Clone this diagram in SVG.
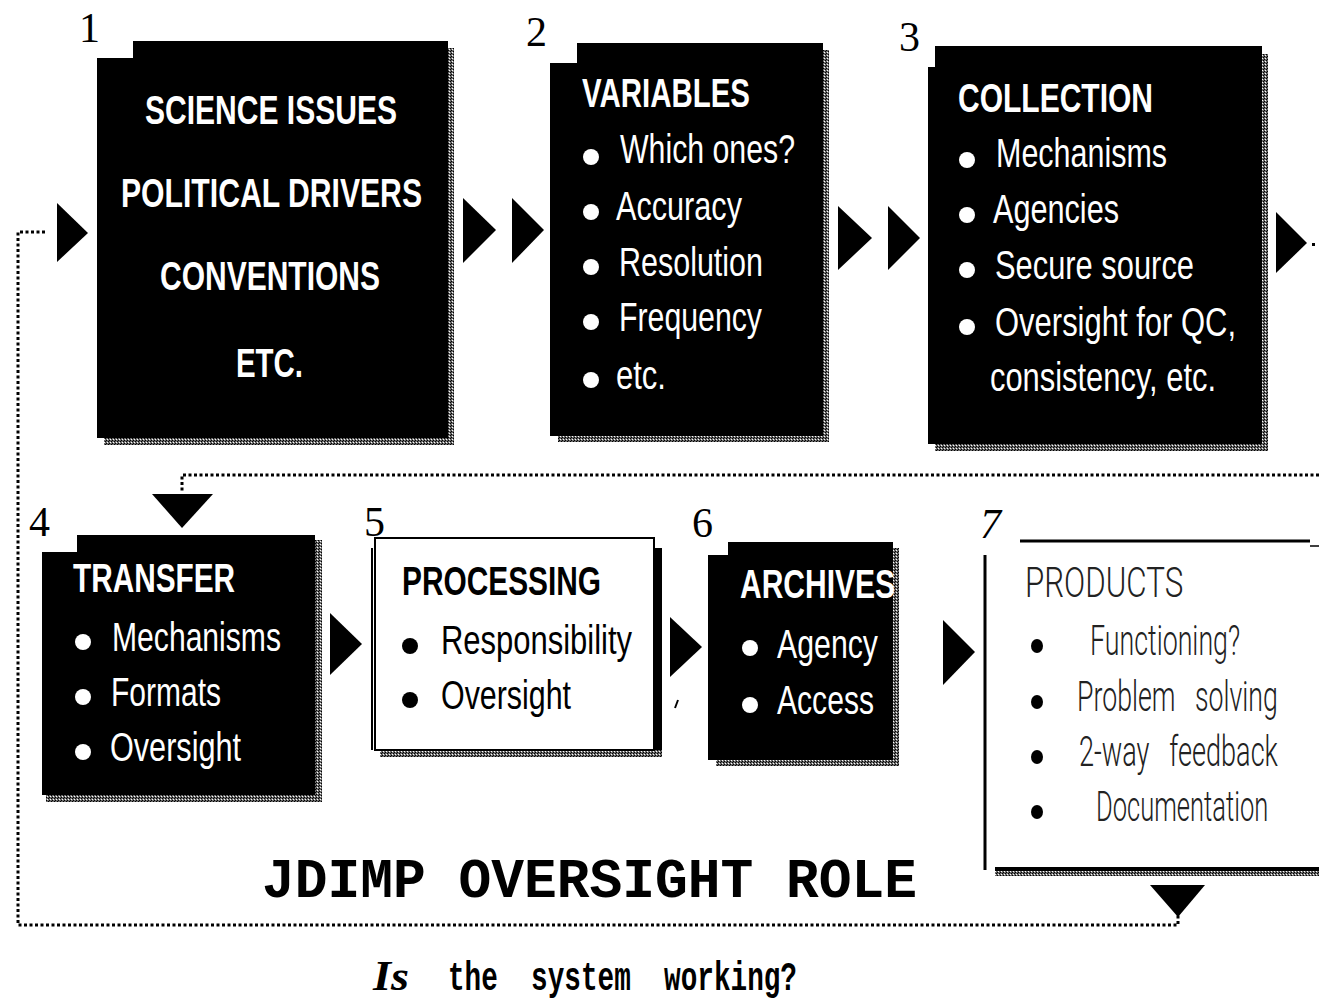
<svg xmlns="http://www.w3.org/2000/svg" width="1319" height="1000" viewBox="0 0 1319 1000">
<style>
.blk{fill:#000}
.stip{fill:url(#stip)}
.num{font-family:"Liberation Serif",serif;font-size:42px;fill:#000}
.hd{font-family:"Liberation Sans",Arial,sans-serif;font-weight:bold;font-size:40px;fill:#fff}
.it{font-family:"Liberation Sans",Arial,sans-serif;font-size:40px;fill:#fff}
.hdk{font-family:"Liberation Sans",Arial,sans-serif;font-weight:bold;font-size:40px;fill:#000}
.itk{font-family:"Liberation Sans",Arial,sans-serif;font-size:40px;fill:#000}
.lt{font-family:Roboto,"Liberation Sans",sans-serif;font-weight:300;font-size:42px;fill:#222}
.bw{fill:#fff}
.bk{fill:#000}
.dot{fill:none;stroke:#000;stroke-width:3;stroke-dasharray:3 2.5}
.tri{fill:#000}
</style>
<defs>
<pattern id="stip" width="3" height="3" patternUnits="userSpaceOnUse">
<rect width="3" height="3" fill="#6a6a6a"/>
<rect width="1" height="1" fill="#000"/>
<rect x="2" y="1" width="1" height="1" fill="#fff"/>
<rect x="1" y="2" width="1" height="1" fill="#000"/>
</pattern>
</defs>
<rect width="1319" height="1000" fill="#fff"/>

<g id="connectors">
<path class="dot" d="M45,232 H18 V925 H1178 V915"/>
<path class="dot" d="M1319,475 H182 V492"/>
<polygon class="tri" points="57,203 88,233 57,262"/>
<polygon class="tri" points="463,198 496,230 463,263"/>
<polygon class="tri" points="512,198 544,230 512,263"/>
<polygon class="tri" points="838,206 872,238 838,270"/>
<polygon class="tri" points="888,206 920,238 888,270"/>
<polygon class="tri" points="1276,212 1307,243 1276,273"/>
<rect x="1312" y="243" width="3" height="3" fill="#000"/>
<polygon class="tri" points="152,494 213,494 182,528"/>
<polygon class="tri" points="330,613 362,644 330,675"/>
<polygon class="tri" points="670,617 702,647 670,677"/>
<path d="M678,700 L675,708" stroke="#000" stroke-width="2"/>
<polygon class="tri" points="943,620 975,652 943,685"/>
<polygon class="tri" points="1150,885 1205,885 1178,917"/>
</g>

<g id="node1">
<text class="num" x="79" y="42">1</text>
<rect class="stip" x="447" y="48" width="7" height="397"/>
<rect class="stip" x="104" y="437" width="350" height="8"/>
<path class="blk" d="M97,58 H133 V41 H448 V438 H97 Z"/>
<text class="hd" x="145" y="124" textLength="252" lengthAdjust="spacingAndGlyphs">SCIENCE ISSUES</text>
<text class="hd" x="121" y="207" textLength="301" lengthAdjust="spacingAndGlyphs">POLITICAL DRIVERS</text>
<text class="hd" x="160" y="290" textLength="220" lengthAdjust="spacingAndGlyphs">CONVENTIONS</text>
<text class="hd" x="236" y="377" textLength="67" lengthAdjust="spacingAndGlyphs">ETC.</text>
</g>

<g id="node2">
<text class="num" x="526" y="46">2</text>
<rect class="stip" x="822" y="50" width="7" height="392"/>
<rect class="stip" x="558" y="435" width="271" height="7"/>
<path class="blk" d="M550,63 H577 V43 H823 V436 H550 Z"/>
<text class="hd" x="582" y="107" textLength="168" lengthAdjust="spacingAndGlyphs">VARIABLES</text>
<circle class="bw" cx="591" cy="157" r="8"/>
<circle class="bw" cx="591" cy="212" r="8"/>
<circle class="bw" cx="591" cy="267" r="8"/>
<circle class="bw" cx="591" cy="322" r="8"/>
<circle class="bw" cx="591" cy="380" r="8"/>
<text class="it" x="620" y="163" textLength="175" lengthAdjust="spacingAndGlyphs">Which ones?</text>
<text class="it" x="616" y="220" textLength="126" lengthAdjust="spacingAndGlyphs">Accuracy</text>
<text class="it" x="619" y="276" textLength="144" lengthAdjust="spacingAndGlyphs">Resolution</text>
<text class="it" x="619" y="331" textLength="143" lengthAdjust="spacingAndGlyphs">Frequency</text>
<text class="it" x="616" y="389" textLength="50" lengthAdjust="spacingAndGlyphs">etc.</text>
</g>

<g id="node3">
<text class="num" x="899" y="51">3</text>
<rect class="stip" x="1261" y="54" width="7" height="397"/>
<rect class="stip" x="935" y="443" width="333" height="8"/>
<path class="blk" d="M928,67 H935 V46 H1262 V444 H928 Z"/>
<text class="hd" x="958" y="112" textLength="195" lengthAdjust="spacingAndGlyphs">COLLECTION</text>
<circle class="bw" cx="967" cy="160" r="8"/>
<circle class="bw" cx="967" cy="215" r="8"/>
<circle class="bw" cx="967" cy="270" r="8"/>
<circle class="bw" cx="967" cy="327" r="8"/>
<text class="it" x="996" y="167" textLength="171" lengthAdjust="spacingAndGlyphs">Mechanisms</text>
<text class="it" x="993" y="223" textLength="126" lengthAdjust="spacingAndGlyphs">Agencies</text>
<text class="it" x="995" y="279" textLength="199" lengthAdjust="spacingAndGlyphs">Secure source</text>
<text class="it" x="995" y="336" textLength="241" lengthAdjust="spacingAndGlyphs">Oversight for QC,</text>
<text class="it" x="990" y="391" textLength="226" lengthAdjust="spacingAndGlyphs">consistency, etc.</text>
</g>

<g id="node4">
<text class="num" x="29" y="536">4</text>
<rect class="stip" x="314" y="540" width="8" height="262"/>
<rect class="stip" x="46" y="794" width="276" height="8"/>
<path class="blk" d="M42,552 H77 V535 H315 V795 H42 Z"/>
<text class="hd" x="73" y="592" textLength="162" lengthAdjust="spacingAndGlyphs">TRANSFER</text>
<circle class="bw" cx="83" cy="642" r="8"/>
<circle class="bw" cx="83" cy="697" r="8"/>
<circle class="bw" cx="83" cy="752" r="8"/>
<text class="it" x="112" y="651" textLength="169" lengthAdjust="spacingAndGlyphs">Mechanisms</text>
<text class="it" x="111" y="706" textLength="110" lengthAdjust="spacingAndGlyphs">Formats</text>
<text class="it" x="110" y="761" textLength="131" lengthAdjust="spacingAndGlyphs">Oversight</text>
</g>

<g id="node5">
<text class="num" x="364" y="536">5</text>
<rect x="654" y="548" width="8" height="209" fill="#000"/>
<rect class="stip" x="380" y="750" width="282" height="7"/>
<rect x="375" y="538" width="279" height="212" fill="#fff" stroke="#000" stroke-width="2"/>
<line x1="372" y1="548" x2="372" y2="750" stroke="#000" stroke-width="2"/>
<text class="hdk" x="402" y="595" textLength="199" lengthAdjust="spacingAndGlyphs">PROCESSING</text>
<circle class="bk" cx="410" cy="646" r="8"/>
<circle class="bk" cx="410" cy="700" r="8"/>
<text class="itk" x="441" y="654" textLength="191" lengthAdjust="spacingAndGlyphs">Responsibility</text>
<text class="itk" x="441" y="709" textLength="130" lengthAdjust="spacingAndGlyphs">Oversight</text>
</g>

<g id="node6">
<text class="num" x="692" y="537">6</text>
<rect class="stip" x="892" y="548" width="7" height="218"/>
<rect class="stip" x="716" y="759" width="183" height="7"/>
<path class="blk" d="M708,555 H728 V542 H893 V760 H708 Z"/>
<text class="hd" x="740" y="598" textLength="155" lengthAdjust="spacingAndGlyphs">ARCHIVES</text>
<circle class="bw" cx="750" cy="648" r="8"/>
<circle class="bw" cx="750" cy="705" r="8"/>
<text class="it" x="777" y="658" textLength="101" lengthAdjust="spacingAndGlyphs">Agency</text>
<text class="it" x="777" y="714" textLength="97" lengthAdjust="spacingAndGlyphs">Access</text>
</g>

<g id="node7">
<text class="num" x="980" y="538" font-style="italic">7</text>
<line x1="1020" y1="541" x2="1310" y2="541" stroke="#000" stroke-width="3"/>
<line x1="1310" y1="546" x2="1319" y2="546" stroke="#000" stroke-width="1.5"/>
<line x1="985" y1="555" x2="985" y2="870" stroke="#000" stroke-width="3"/>
<rect class="stip" x="995" y="867" width="324" height="9"/>
<rect x="995" y="867" width="324" height="4" fill="#000"/>
<text class="lt" transform="translate(1025,597) scale(0.7,1)" textLength="226" lengthAdjust="spacingAndGlyphs">PRODUCTS</text>
<ellipse class="bk" cx="1037" cy="646" rx="6" ry="7"/>
<ellipse class="bk" cx="1037" cy="702" rx="6" ry="7"/>
<ellipse class="bk" cx="1037" cy="757" rx="6" ry="7"/>
<ellipse class="bk" cx="1037" cy="812" rx="6" ry="7"/>
<text class="lt" transform="translate(1090,655) scale(0.65,1)" textLength="231" lengthAdjust="spacingAndGlyphs">Functioning?</text>
<text class="lt" transform="translate(1077,711) scale(0.65,1)" textLength="309" lengthAdjust="spacingAndGlyphs">Problem&#160;&#160;&#160;solving</text>
<text class="lt" transform="translate(1079,766) scale(0.65,1)" textLength="306" lengthAdjust="spacingAndGlyphs">2-way&#160;&#160;&#160;feedback</text>
<text class="lt" transform="translate(1096,821) scale(0.65,1)" textLength="265" lengthAdjust="spacingAndGlyphs">Documentation</text>
</g>

<g id="caption">
<text x="262" y="897" font-family="'Liberation Mono',monospace" font-weight="bold" font-size="56" textLength="655" lengthAdjust="spacingAndGlyphs">JDIMP OVERSIGHT ROLE</text>
<text x="373" y="990" font-family="'Liberation Serif',serif" font-weight="bold" font-style="italic" font-size="42" textLength="36" lengthAdjust="spacingAndGlyphs">Is</text>
<text x="448" y="990" font-family="'Liberation Mono',monospace" font-weight="bold" font-size="40" textLength="349" lengthAdjust="spacingAndGlyphs">the&#160;&#160;system&#160;&#160;working?</text>
</g>
</svg>
